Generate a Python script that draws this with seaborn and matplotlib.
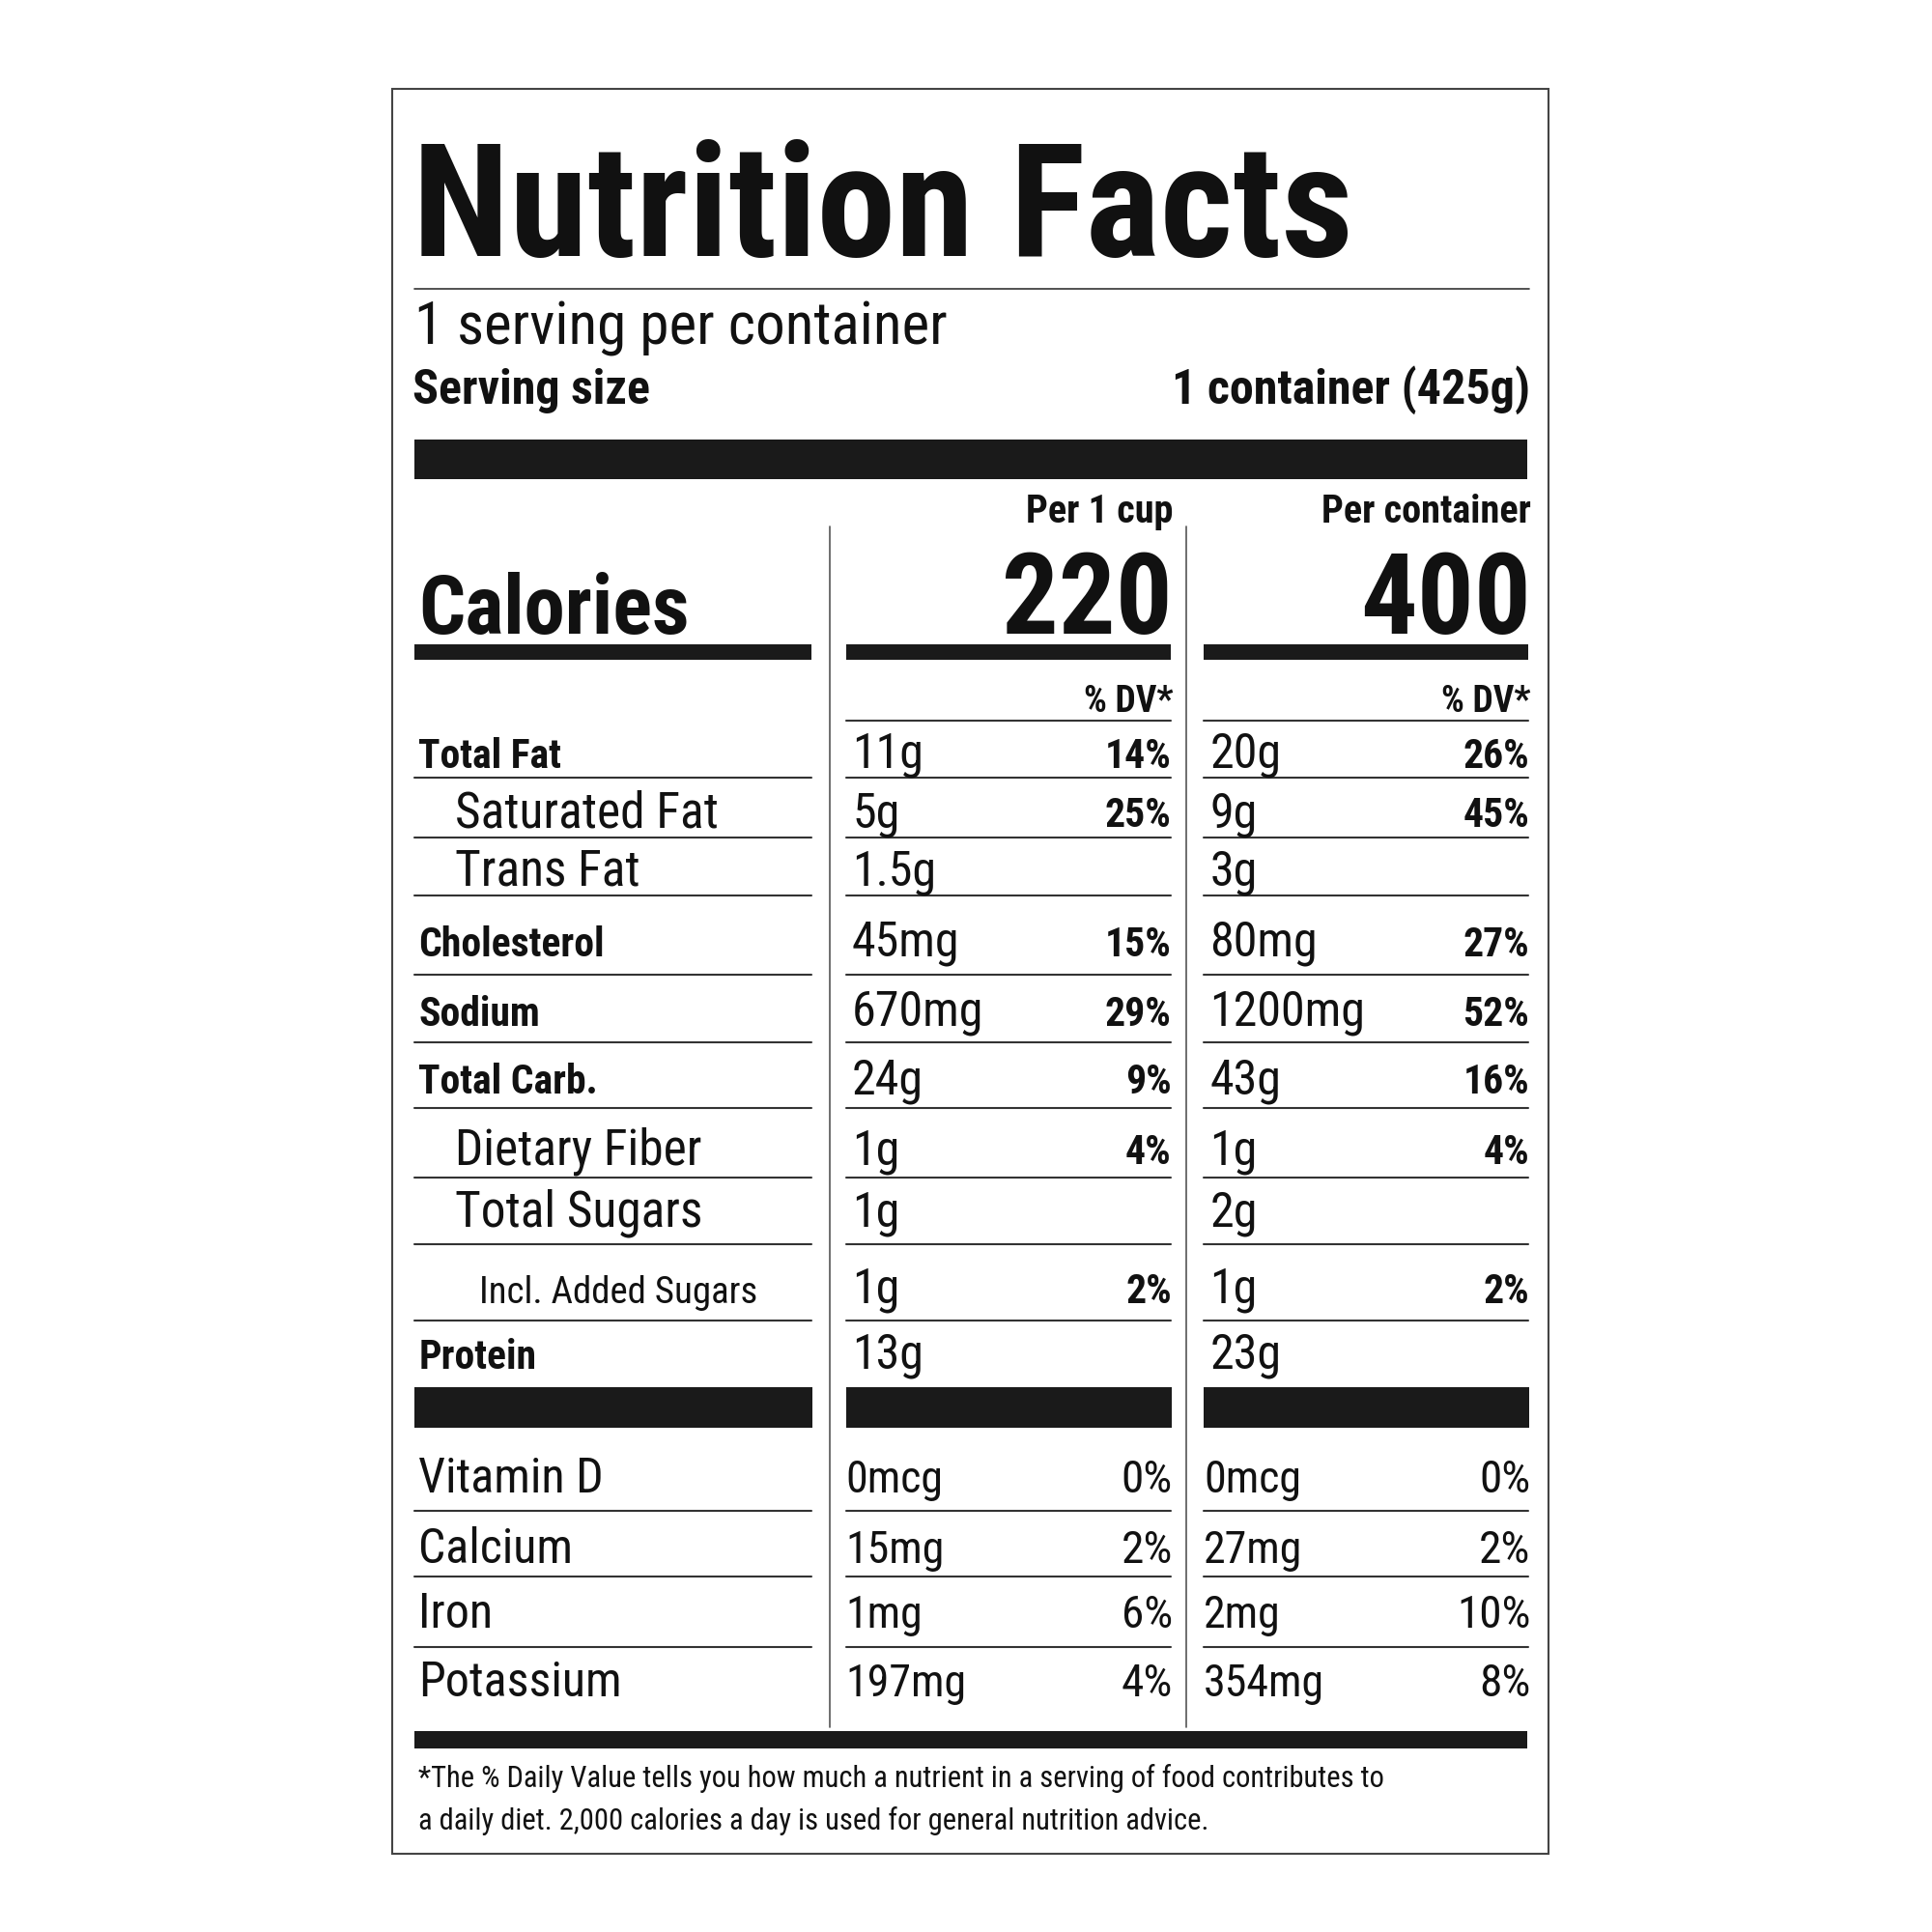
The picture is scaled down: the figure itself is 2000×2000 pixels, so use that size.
import matplotlib
matplotlib.use("Agg")
import matplotlib.pyplot as plt
import seaborn as sns
from matplotlib.patches import Rectangle

sns.set_theme(style="white")
FAM = ['Roboto Condensed', 'Liberation Sans Narrow', 'Roboto', 'DejaVu Sans']
plt.rcParams['font.family'] = FAM

title = "Nutrition Facts"
servings = "1 serving per container"
serving_size = "1 container (425g)"
col_heads = ["Per 1 cup", "Per container"]
calories = ["220", "400"]
nutrients = ["Total Fat", "Saturated Fat", "Trans Fat", "Cholesterol", "Sodium",
             "Total Carb.", "Dietary Fiber", "Total Sugars", "Incl. Added Sugars", "Protein"]
indent = [0, 1, 1, 0, 0, 0, 1, 1, 2, 0]
amt_cup = ["11g", "5g", "1.5g", "45mg", "670mg", "24g", "1g", "1g", "1g", "13g"]
pct_cup = ["14%", "25%", "", "15%", "29%", "9%", "4%", "", "2%", ""]
amt_cont = ["20g", "9g", "3g", "80mg", "1200mg", "43g", "1g", "2g", "1g", "23g"]
pct_cont = ["26%", "45%", "", "27%", "52%", "16%", "4%", "", "2%", ""]
vitamins = ["Vitamin D", "Calcium", "Iron", "Potassium"]
vit_amt_cup = ["0mcg", "15mg", "1mg", "197mg"]
vit_pct_cup = ["0%", "2%", "6%", "4%"]
vit_amt_cont = ["0mcg", "27mg", "2mg", "354mg"]
vit_pct_cont = ["0%", "2%", "10%", "8%"]
footnote = ["*The % Daily Value tells you how much a nutrient in a serving of food contributes to",
            "a daily diet. 2,000 calories a day is used for general nutrition advice."]

row_base = [620, 668, 715, 772, 828, 883, 940, 990, 1052, 1105]
row_line = [628, 676, 723, 787, 842, 895, 951, 1005, 1066, None]
vit_base = [1205, 1262, 1314, 1370]
vit_line = [1220, 1273, 1330, None]
ind_x = [338, 367, 387]

fig = plt.figure(figsize=(20, 20), dpi=100)
ax = fig.add_axes([0, 0, 1, 1])
ax.set_xlim(0, 1560); ax.set_ylim(1560, 0); ax.axis('off')
fig.patch.set_facecolor('white')

def T(x, y, s, size, bold=False, ha='left'):
    ax.text(x, y, s, fontsize=size, fontweight='bold' if bold else 'normal',
            ha=ha, va='baseline', color='#111111', family=FAM)

def bar(x0, x1, y0, y1):
    ax.add_patch(Rectangle((x0, y0), x1 - x0, y1 - y0, color='#1a1a1a', lw=0))

def hl(x0, x1, y, lw=1.5):
    ax.plot([x0, x1], [y, y], color='#333333', lw=lw)

ax.add_patch(Rectangle((317, 72), 933, 1425, fill=False, ec='#444444', lw=1.5))
T(333, 207, title, 118, True)
hl(335, 1235, 233, 1.2)
T(335, 278, servings, 44)
T(333, 326, "Serving size", 36, True)
T(1236, 326, serving_size, 36, True, 'right')
bar(335, 1233, 355, 387)

cols = [(683, 945), (972, 1234)]
for xv in (670, 958):
    ax.plot([xv, xv], [425, 1395], color='#555555', lw=1.2)
T(338, 512, "Calories", 61, True)
for i, (a, b) in enumerate(cols):
    T(b + 2, 422, col_heads[i], 29, True, 'right')
    T(b + 2, 512, calories[i], 84, True, 'right')
    bar(a, b, 520, 533)
    T(b + 2, 575, "% DV*", 27, True, 'right')
    hl(a, b, 582)
bar(335, 655, 520, 533)

for k, n in enumerate(nutrients):
    y = row_base[k]
    bold = indent[k] == 0
    if indent[k] == 2:
        size = 28
    else:
        size = 30 if bold else 37
    T(ind_x[indent[k]], y, n, size, bold)
    vals = [(amt_cup[k], pct_cup[k]), (amt_cont[k], pct_cont[k])]
    for i, (a, b) in enumerate(cols):
        T(a + 5, y, vals[i][0], 36)
        T(b + 1, y, vals[i][1], 30, True, 'right')
    if row_line[k]:
        hl(335, 655, row_line[k])
        for a, b in cols:
            hl(a, b, row_line[k])

bar(335, 656, 1120, 1153)
for a, b in cols:
    bar(a, b + 1, 1120, 1153)

for k, n in enumerate(vitamins):
    y = vit_base[k]
    T(338, y, n, 36)
    vals = [(vit_amt_cup[k], vit_pct_cup[k]), (vit_amt_cont[k], vit_pct_cont[k])]
    for i, (a, b) in enumerate(cols):
        T(a, y, vals[i][0], 33)
        T(b + 2, y, vals[i][1], 34, False, 'right')
    if vit_line[k]:
        hl(335, 655, vit_line[k])
        for a, b in cols:
            hl(a, b, vit_line[k])

bar(335, 1233, 1398, 1412)
T(338, 1443, footnote[0], 22)
T(338, 1477, footnote[1], 22)

fig.savefig("out.png", dpi=100, facecolor='white')
